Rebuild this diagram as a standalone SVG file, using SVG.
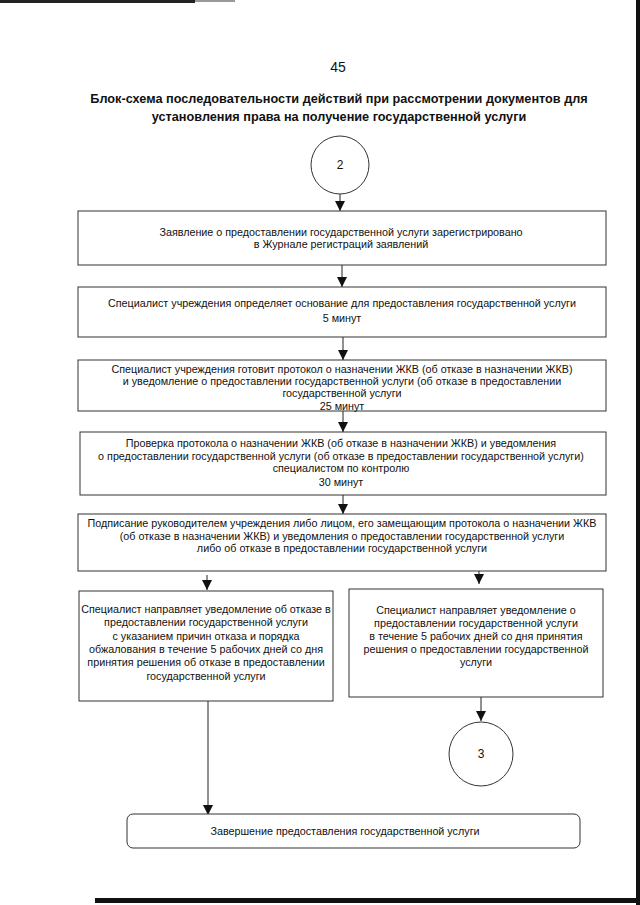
<svg xmlns="http://www.w3.org/2000/svg" width="640" height="905" viewBox="0 0 640 905">
<defs>
<marker id="ah" markerUnits="userSpaceOnUse" markerWidth="10" markerHeight="10" refX="10" refY="5" orient="auto">
<path d="M0,0 L10,5 L0,10 z" fill="#111"/>
</marker>
<style>
.box{fill:#fff;stroke:#333;stroke-width:1}
.t{font-family:"Liberation Sans",Arial,sans-serif;font-size:10.75px;fill:#111;text-anchor:middle}
.ttl{font-family:"Liberation Sans",Arial,sans-serif;font-size:12.7px;font-weight:bold;fill:#111;text-anchor:middle}
.c{stroke:#222;stroke-width:1;fill:none;marker-end:url(#ah)}
</style>
</defs>
<rect width="640" height="905" fill="#fff"/>
<g id="scan-edges">
<rect x="0" y="0" width="195" height="3" fill="#222"/>
<rect x="195" y="0" width="40" height="2" fill="#999"/>
<rect x="636" y="0" width="4" height="905" fill="#111"/>
<rect x="95" y="898" width="545" height="5" fill="#111"/>
</g>
<g id="header">
<text class="t" x="338" y="72" style="font-size:14px">45</text>
<text class="ttl" x="339" y="103">Блок-схема последовательности действий при рассмотрении документов для</text>
<text class="ttl" x="339" y="121">установления права на получение государственной услуги</text>
</g>
<g id="connectors">
<line class="c" x1="340" y1="194" x2="340" y2="211"/>
<line class="c" x1="342" y1="265" x2="342" y2="287"/>
<line class="c" x1="343" y1="337" x2="343" y2="360"/>
<line class="c" x1="343" y1="411" x2="343" y2="432"/>
<line class="c" x1="343" y1="495" x2="343" y2="514"/>
<line class="c" x1="207" y1="575" x2="207" y2="590"/>
<line class="c" x1="479" y1="570" x2="479" y2="584"/>
<line class="c" x1="481" y1="697" x2="481" y2="721"/>
<line class="c" x1="208" y1="701" x2="208" y2="815"/>
</g>
<g id="start2">
<circle cx="340" cy="165" r="29" fill="#fff" stroke="#333"/>
<text class="t" x="340" y="169" style="font-size:12px">2</text>
</g>
<g id="box1">
<rect class="box" x="78" y="211" width="528" height="54"/>
<text class="t" x="341" y="236">Заявление о предоставлении государственной услуги зарегистрировано</text>
<text class="t" x="341" y="248">в Журнале регистраций заявлений</text>
</g>
<g id="box2">
<rect class="box" x="78" y="287" width="528" height="50"/>
<text class="t" x="342" y="307">Специалист учреждения определяет основание для предоставления государственной услуги</text>
<text class="t" x="342" y="322">5 минут</text>
</g>
<g id="box3">
<rect class="box" x="78" y="360" width="528" height="51"/>
<text class="t" x="342" y="373">Специалист учреждения готовит протокол о назначении ЖКВ (об отказе в назначении ЖКВ)</text>
<text class="t" x="342" y="385">и уведомление о предоставлении государственной услуги (об отказе в предоставлении</text>
<text class="t" x="342" y="397">государственной услуги</text>
<text class="t" x="342" y="410">25 минут</text>
</g>
<g id="box4">
<rect class="box" x="80" y="432" width="526" height="63"/>
<text class="t" x="341" y="447">Проверка протокола о назначении ЖКВ (об отказе в назначении ЖКВ) и уведомления</text>
<text class="t" x="341" y="460">о предоставлении государственной услуги (об отказе в предоставлении государственной услуги)</text>
<text class="t" x="341" y="472">специалистом по контролю</text>
<text class="t" x="341" y="486">30 минут</text>
</g>
<g id="box5">
<rect class="box" x="78" y="514" width="528" height="57"/>
<text class="t" x="342" y="527">Подписание руководителем учреждения либо лицом, его замещающим протокола о назначении ЖКВ</text>
<text class="t" x="342" y="540">(об отказе в назначении ЖКВ) и уведомления о предоставлении государственной услуги</text>
<text class="t" x="342" y="552">либо об отказе в предоставлении государственной услуги</text>
</g>
<g id="boxLeft">
<rect class="box" x="79" y="591" width="254" height="110"/>
<text class="t" x="206" y="613">Специалист направляет уведомление об отказе в</text>
<text class="t" x="206" y="626">предоставлении государственной услуги</text>
<text class="t" x="206" y="640">с указанием причин отказа и порядка</text>
<text class="t" x="206" y="653">обжалования в течение 5 рабочих дней со дня</text>
<text class="t" x="206" y="666">принятия решения об отказе в предоставлении</text>
<text class="t" x="206" y="680">государственной услуги</text>
</g>
<g id="boxRight">
<rect class="box" x="349" y="589" width="254" height="108"/>
<text class="t" x="476" y="614">Специалист направляет уведомление о</text>
<text class="t" x="476" y="627">предоставлении государственной услуги</text>
<text class="t" x="476" y="640">в течение 5 рабочих дней со дня принятия</text>
<text class="t" x="476" y="653">решения о предоставлении государственной</text>
<text class="t" x="476" y="666">услуги</text>
</g>
<g id="end3">
<circle cx="481" cy="754" r="32" fill="#fff" stroke="#333"/>
<text class="t" x="481" y="758" style="font-size:12px">3</text>
</g>
<g id="finish">
<rect class="box" x="127" y="814" width="453" height="34" rx="6" ry="6"/>
<text class="t" x="345" y="835">Завершение предоставления государственной услуги</text>
</g>
</svg>
